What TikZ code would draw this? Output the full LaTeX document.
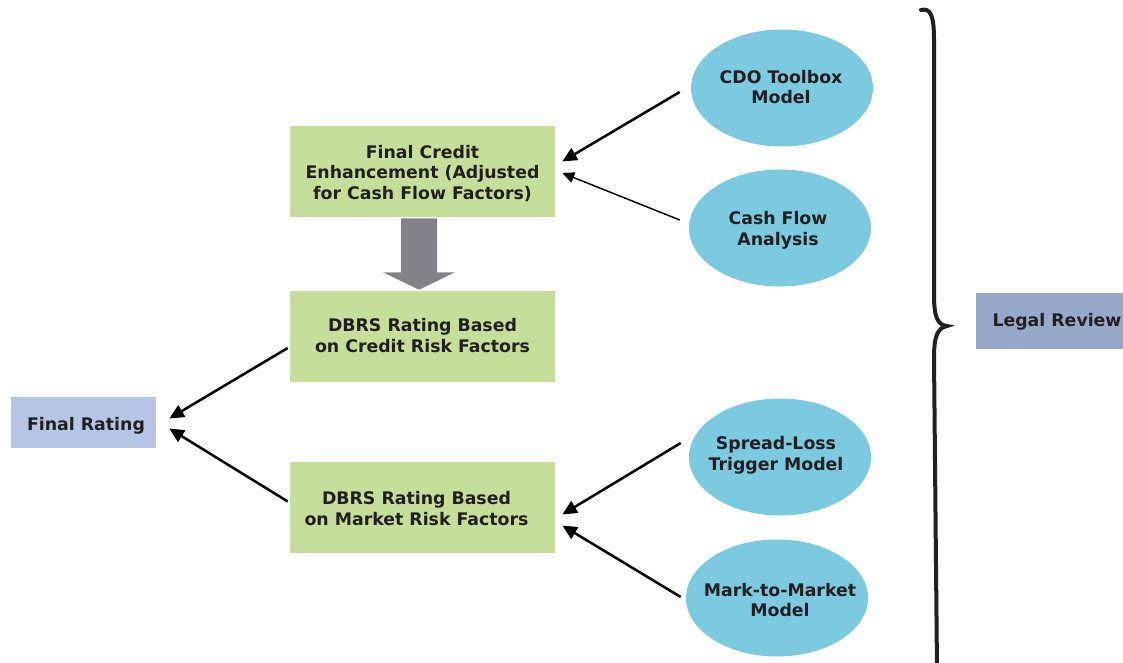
\documentclass[tikz,border=0pt]{standalone}
\usepackage{fontspec}
\setmainfont{DejaVu Sans}
\usetikzlibrary{shapes.geometric,arrows.meta,calc}
\definecolor{boxgreen}{HTML}{C5DF9B}
\definecolor{ellblue}{HTML}{7BCADF}
\definecolor{finalblue}{HTML}{B4C5E5}
\definecolor{legalblue}{HTML}{97A9C9}
\definecolor{arrowgray}{HTML}{838288}
\definecolor{txt}{HTML}{231F20}
\tikzset{
  lbl/.style={font=\bfseries\fontsize{13}{15.6}\selectfont, text=txt, align=center, inner sep=0pt},
  gbox/.style={rectangle, fill=boxgreen, minimum width=265*0.75pt, minimum height=91*0.75pt, inner sep=0pt},
  ell/.style={ellipse, fill=ellblue, minimum width=182*0.75pt, minimum height=117*0.75pt, inner sep=0pt},
  thickarr/.style={line width=1.9pt, -{Triangle[length=11pt,width=10pt]}},
  thinarr/.style={line width=1.1pt, -{Triangle[length=9pt,width=8pt]}},
}
\begin{document}
\begin{tikzpicture}[x=0.75pt,y=-0.75pt]
\useasboundingbox (0,0) rectangle (1123,663);
% green boxes
\node[gbox] (fce) at (422.5,171.5) {};
\node[lbl] (fcet) at ($(fce)+(0,2)$) {Final Credit\\Enhancement (Adjusted\\for Cash Flow Factors)};
\node[gbox] (crf) at (422.5,336.5) {};
\node[lbl] (crft) at ($(crf)+(0,-1)$) {DBRS Rating Based\\on Credit Risk Factors};
\node[gbox] (mrf) at (422.5,507.5) {};
\node[lbl] (mrft) at ($(mrf)+(-6,1)$) {DBRS Rating Based\\on Market Risk Factors};
% final rating
\node[rectangle, fill=finalblue, minimum width=145*0.75pt, minimum height=51*0.75pt, inner sep=0pt] (fr) at (83.5,422.5) {};
\node[lbl] (frt) at ($(fr)+(2.5,3)$) {Final Rating};
% legal review (box runs off the right edge)
\node[rectangle, fill=legalblue, minimum width=162*0.75pt, minimum height=56*0.75pt, inner sep=0pt] (lr) at (1057,321) {};
\node[lbl] (lrt) at ($(lr)+(0,1)$) {Legal Review};
% ellipses
\node[ell] (cdo) at (782,88) {};
\node[lbl] (cdot) at ($(cdo)+(-1,-1)$) {CDO Toolbox\\Model};
\node[ell] (cfa) at (780,228) {};
\node[lbl] (cfat) at ($(cfa)+(-2,2)$) {Cash Flow\\Analysis};
\node[ell] (slt) at (780,457) {};
\node[lbl] (sltt) at ($(slt)+(-4,-2)$) {Spread-Loss\\Trigger Model};
\node[ell] (mtm) at (777,598) {};
\node[lbl] (mtmt) at ($(mtm)+(3,2)$) {Mark-to-Market\\Model};
% gray block arrow
\fill[arrowgray] ($(fce.south)+(-21.5,1)$) -- ($(fce.south)+(14.5,1)$) -- ($(fce.south)+(14.5,55)$)
  -- ($(fce.south)+(32.5,55)$) -- ($(crf.north)+(-3.5,-1)$) -- ($(fce.south)+(-39.5,55)$)
  -- ($(fce.south)+(-21.5,55)$) -- cycle;
% connectors
\draw[thickarr] ($(cdo.west)+(-11,4)$) -- ($(fce.east)+(7,-10)$);
\draw[thinarr] ($(cfa.west)+(-9,-8)$) -- ($(fce.east)+(7,1.5)$);
\draw[thickarr] ($(crf.west)+(-2,11.5)$) -- ($(fr.east)+(13,-4)$);
\draw[thickarr] ($(mrf.west)+(-2,-6)$) -- ($(fr.east)+(13,6)$);
\draw[thickarr] ($(slt.west)+(-8,-14)$) -- ($(mrf.east)+(7,7)$);
\draw[thickarr] ($(mtm.west)+(-5,-1)$) -- ($(mrf.east)+(7,18)$);
% brace
\draw[line width=3pt, txt, line cap=round]
  (921,10) .. controls (930,8) and (934,14) .. (934,40) -- (934,295)
  .. controls (934,318) and (938,325) .. (947,326)
  .. controls (938,328) and (934,335) .. (934,358) -- (937,670);
\end{tikzpicture}
\end{document}
